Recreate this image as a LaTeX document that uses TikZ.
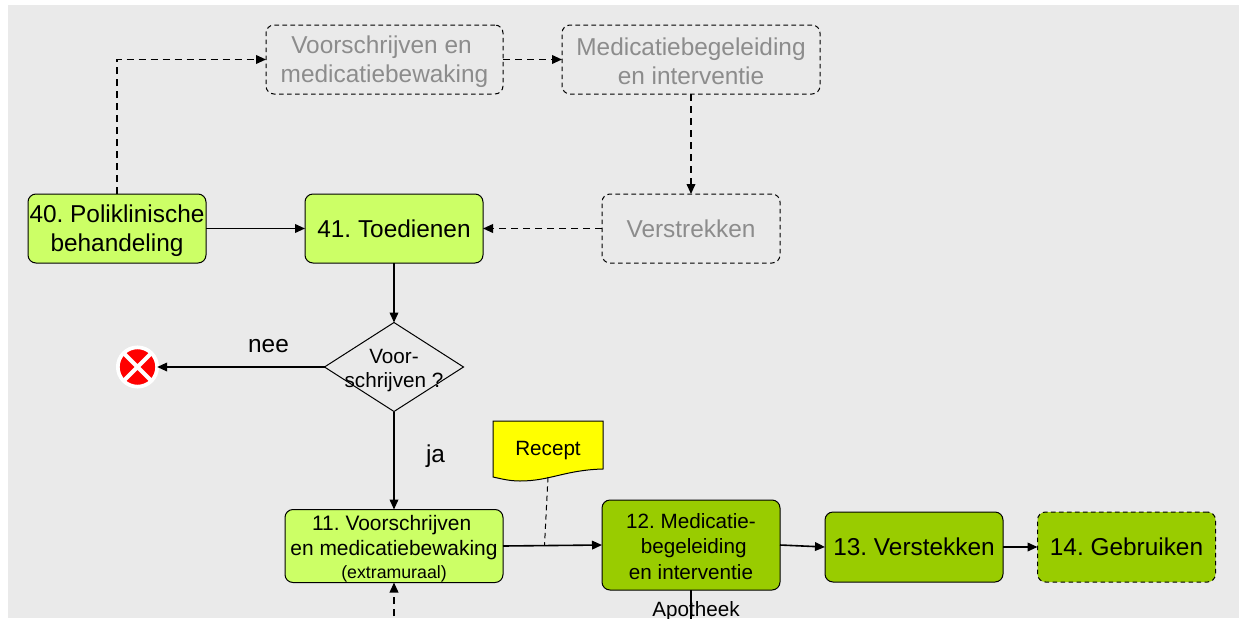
\documentclass[tikz,border=0pt]{standalone}
\usepackage{fontspec}
\setmainfont{Liberation Sans}
\usetikzlibrary{arrows.meta,shapes.geometric}
\definecolor{bggray}{HTML}{EAEAEA}
\definecolor{lightgr}{HTML}{CCFF66}
\definecolor{darkgr}{HTML}{99CC00}
\definecolor{ghost}{HTML}{8C8C8C}
\definecolor{noteyellow}{HTML}{FFFF00}
\definecolor{stopred}{HTML}{FF0000}
\newcommand\firstline[1]{\rule{0pt}{#1}}
\tikzset{
  x=0.75pt,y=-0.75pt,
  big/.style={font=\fontsize{18.3pt}{21.75pt}\selectfont},
  mid/.style={font=\fontsize{15.5pt}{19pt}\selectfont},
  basebox/.style={rectangle,rounded corners=6pt,align=center,inner sep=0pt,outer sep=0pt,line width=0.75pt},
  lightbox/.style={basebox,big,draw=black,fill=lightgr,minimum width=133.5pt,minimum height=51.75pt},
  darkbox/.style={basebox,big,draw=black,fill=darkgr,minimum width=133.5pt,minimum height=52.5pt},
  ghostbox/.style={basebox,big,draw=black,text=ghost,minimum height=51.75pt,dash pattern=on 3.5pt off 2.5pt},
  flow/.style={line width=1.2pt,-{Triangle[length=7.5pt,width=6.5pt]}},
  dflow/.style={flow,dash pattern=on 5.5pt off 3.5pt},
  note/.style={line width=0.75pt,dash pattern=on 4pt off 3pt}
}
\begin{document}
\frenchspacing
\begin{tikzpicture}
\useasboundingbox (0,0) rectangle (1239,618);
\fill[bggray] (8,5) rectangle (1239,618);
% ghost row
\node[ghostbox,minimum width=177.75pt] (v1) at (384.5,59.5) {\firstline{16pt}Voorschrijven en\hspace*{4.5pt}\\medicatiebewaking};
\node[ghostbox,minimum width=193.5pt] (m1) at (691,59.5) {\firstline{16pt}Medicatiebegeleiding\\en interventie};
\node[ghostbox,minimum width=133.5pt] (vs) at (691,228.5) {Verstrekken};
% main row
\node[lightbox] (n40) at (117,228.5) {\firstline{16.5pt}40. Poliklinische\\behandeling};
\node[lightbox] (n41) at (394,228.5) {41. Toedienen};
% decision
\node[diamond,draw=black,line width=0.75pt,inner sep=0pt,outer sep=0pt,aspect=1.56,minimum width=104.25pt,minimum height=66.75pt,
  label={[mid,align=center,inner sep=0pt]center:\firstline{16pt}Voor-\\[-0.5pt]schrijven ?}] (dec) at (394,367) {};
% stop symbol
\node[circle,fill=stopred,draw=white,line width=2.8pt,inner sep=0pt,outer sep=0pt,minimum size=29.5pt,
  path picture={\draw[white,line width=3pt] (path picture bounding box.north west) -- (path picture bounding box.south east)
    (path picture bounding box.north east) -- (path picture bounding box.south west);}] (stop) at (137.5,367) {};
% labels
\node[big,inner sep=0pt] (nee) at (268.5,346) {nee};
\node[big,inner sep=0pt] (ja) at (435.5,456) {ja};
% lower row
\node[lightbox,minimum width=163.5pt,minimum height=53.25pt,font=\fontsize{15.7pt}{18.75pt}\selectfont] (n11) at (394,546)
  {\firstline{16pt}11. Voorschrijven\hspace*{3.5pt}\\en medicatiebewaking\\[-1.5pt]{\fontsize{13.3pt}{14pt}\selectfont (extramuraal)}};
\node[darkbox,minimum height=67.5pt,font=\fontsize{15.5pt}{19.1pt}\selectfont] (n12) at (691,545) {\firstline{13pt}12. Medicatie-\\\hspace*{4pt}begeleiding\\en interventie};
\node[darkbox] (n13) at (914,547) {13. Verstekken};
\node[darkbox,dash pattern=on 3.5pt off 2.5pt] (n14) at (1126.5,547) {14. Gebruiken};
% recept document
\draw[fill=noteyellow,line width=0.75pt] (493,421) -- (603,421) -- (603,469)
  .. controls (565,470) and (550,481) .. (520,481)
  .. controls (510,481) and (502,479) .. (493,477) -- cycle;
\node[mid,inner sep=0pt,outer sep=0pt,minimum width=82.5pt,minimum height=39pt] (recept) at (548,451) {Recept};
% free ends
\coordinate (tap) at (544.5,545.5);
\coordinate (bot11) at (394,640);
\coordinate (bot12) at (691,640);
% connectors
\draw[dflow] (n40.north) |- (v1.west);
\draw[dflow] (v1.east) -- (m1.west);
\draw[dflow] (m1.south) -- (vs.north);
\draw[dflow] (vs.west) -- (n41.east);
\draw[flow] (n40.east) -- (n41.west);
\draw[flow] (n41.south) -- (dec.north);
\draw[flow] (dec.west) -- (stop.east);
\draw[flow] (dec.south) -- (n11.north);
\draw[flow] (n11.east) -- (n12.west);
\draw[flow] (n12.east) -- (n13.west);
\draw[flow] (n13.east) -- (n14.west);
\draw[note] (recept.south) -- (tap);
\begin{scope}
\clip (0,0) rectangle (1239,618);
\draw[dflow] (bot11) -- (n11.south);
\draw[line width=1pt] (n12.south) -- (bot12);
\node[mid,inner sep=0pt] (apo) at (696,611) {Apotheek};
\end{scope}
\end{tikzpicture}
\end{document}
